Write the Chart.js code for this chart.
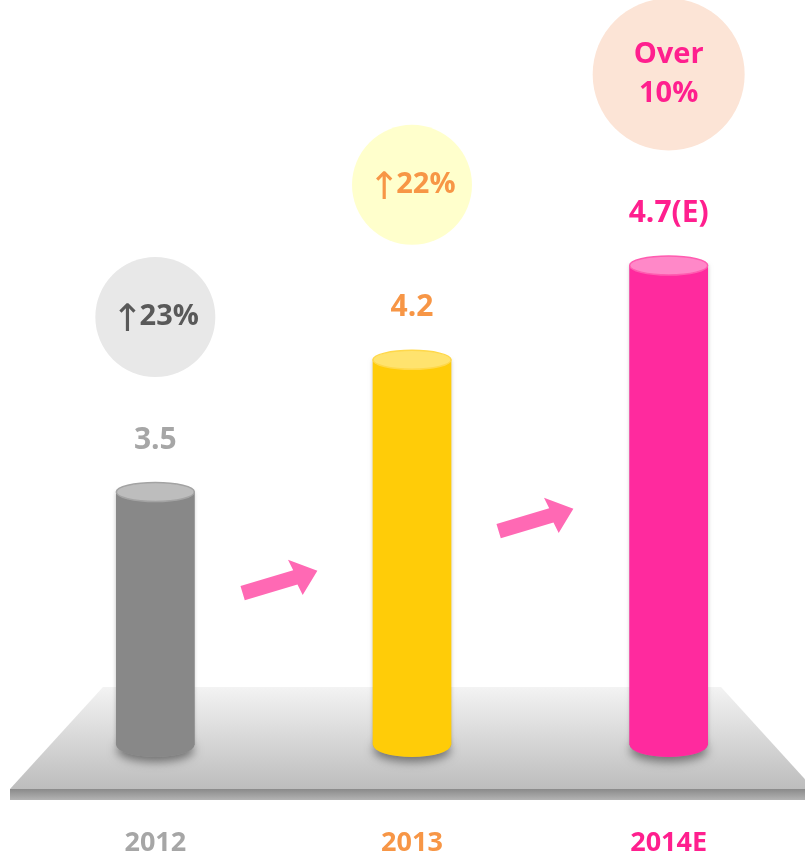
<!DOCTYPE html>
<html lang="en">
<head>
  <meta charset="UTF-8">
  <title>Growth</title>
  <style>
    body {
      margin: 0;
      padding: 0;
      background: #ffffff;
    }

    .chart-box {
      width: 805px;
      height: 855px;
      position: relative;
    }
  </style>
</head>
<body>
<div class="chart-box">
  <canvas id="growthChart"></canvas>
</div>

<script src="https://cdn.jsdelivr.net/npm/chart.js"></script>
<script>
  // data
  const years = ['2012', '2013', '2014E'];
  const values = [3.5, 4.2, 4.7];
  const valueLabels = ['3.5', '4.2', '4.7(E)'];
  const growthLabels = [['↑23%'], ['↑22%'], ['Over', '10%']];

  // styles
  const bodyColors = ['#888888', '#FFCC08', '#FF2A9E'];
  const topColors = ['#bdbdbd', '#FFE36E', '#FF88C8'];
  const topBorders = ['#a3a3a3', '#FFD84A', '#FF5CB0'];
  const textColors = ['#A6A6A6', '#F79646', '#FF1F8E'];
  const circleColors = ['#E8E8E8', '#FFFFCC', '#FCE4D6'];
  const circleTextColors = ['#595959', '#F79646', '#FF1F8E'];
  const circleRadius = [60, 60, 76];
  const FONT = "'Open Sans', sans-serif";

  function drawArrow(ctx, cx, cy, angle) {
    ctx.save();
    ctx.translate(cx, cy);
    ctx.rotate(angle);
    ctx.fillStyle = '#FF69B4';
    ctx.beginPath();
    ctx.moveTo(-39, -7.5);
    ctx.lineTo(16, -7.5);
    ctx.lineTo(14, -19);
    ctx.lineTo(39, 0);
    ctx.lineTo(18, 19);
    ctx.lineTo(16, 7.5);
    ctx.lineTo(-39, 7.5);
    ctx.closePath();
    ctx.fill();
    ctx.restore();
  }

  // "↑23%": arrow glyph from DejaVu, number from the main font
  function drawGrowthText(ctx, text, x, y) {
    const numFont = 'bold 29px ' + FONT;
    const arrowFont = '38px "DejaVu Sans"';
    if (text.charAt(0) !== '↑') {
      ctx.font = numFont;
      ctx.textAlign = 'center';
      ctx.fillText(text, x, y);
      return;
    }
    const rest = text.slice(1);
    ctx.font = arrowFont;
    const wa = ctx.measureText('↑').width;
    ctx.font = numFont;
    const wn = ctx.measureText(rest).width;
    const left = x - (wa + wn - 4) / 2;
    ctx.textAlign = 'left';
    ctx.font = arrowFont;
    ctx.fillText('↑', left, y + 4);
    ctx.font = numFont;
    ctx.fillText(rest, left + wa - 4, y);
    ctx.textAlign = 'center';
  }

  const cylinderPlugin = {
    id: 'cylinder',
    beforeDatasetsDraw(chart) {
      const ctx = chart.ctx;
      const base = chart.chartArea.bottom;
      const top = base - 58, bot = base + 44;
      ctx.save();
      // floor
      let g = ctx.createLinearGradient(0, top, 0, bot);
      g.addColorStop(0, '#f3f3f3');
      g.addColorStop(1, '#bdbdbd');
      ctx.fillStyle = g;
      ctx.beginPath();
      ctx.moveTo(103, top);
      ctx.lineTo(721, top);
      ctx.lineTo(814, bot);
      ctx.lineTo(10, bot);
      ctx.closePath();
      ctx.fill();
      g = ctx.createLinearGradient(0, bot, 0, bot + 11);
      g.addColorStop(0, '#8a8a8a');
      g.addColorStop(1, '#b3b3b3');
      ctx.fillStyle = g;
      ctx.fillRect(10, bot, 805, 11);
      // shadows under the cylinders and along their sides
      chart.getDatasetMeta(0).data.forEach(bar => {
        ctx.shadowColor = 'rgba(0,0,0,0.45)';
        ctx.shadowBlur = 10;
        ctx.shadowOffsetY = 5;
        ctx.fillStyle = '#999';
        ctx.beginPath();
        ctx.ellipse(bar.x, base, bar.width / 2, 12, 0, 0, Math.PI * 2);
        ctx.fill();
        ctx.shadowColor = 'rgba(0,0,0,0.25)';
        ctx.shadowBlur = 4;
        ctx.shadowOffsetY = 0;
        ctx.fillRect(bar.x - bar.width / 2, bar.y, bar.width, base - bar.y);
      });
      ctx.restore();
    },
    afterDatasetsDraw(chart) {
      const ctx = chart.ctx;
      const base = chart.chartArea.bottom;
      ctx.save();
      chart.getDatasetMeta(0).data.forEach((bar, i) => {
        const rx = bar.width / 2;
        // bottom cap
        ctx.fillStyle = bodyColors[i];
        ctx.beginPath();
        ctx.ellipse(bar.x, base, rx, 12, 0, 0, Math.PI);
        ctx.fill();
        // top cap
        ctx.fillStyle = topColors[i];
        ctx.strokeStyle = topBorders[i];
        ctx.lineWidth = 1.5;
        ctx.beginPath();
        ctx.ellipse(bar.x, bar.y, rx, 9.5, 0, 0, Math.PI * 2);
        ctx.fill();
        ctx.stroke();
        // value label
        ctx.textAlign = 'center';
        ctx.textBaseline = 'middle';
        ctx.fillStyle = textColors[i];
        ctx.font = 'bold 30px ' + FONT;
        ctx.fillText(valueLabels[i], bar.x, bar.y - 52);
        // growth circle
        const r = circleRadius[i];
        const cy = bar.y - 115 - r;
        ctx.fillStyle = circleColors[i];
        ctx.beginPath();
        ctx.arc(bar.x, cy, r, 0, Math.PI * 2);
        ctx.fill();
        ctx.fillStyle = circleTextColors[i];
        const lines = growthLabels[i];
        lines.forEach((t, k) => {
          drawGrowthText(ctx, t, bar.x, cy + (k - (lines.length - 1) / 2) * 39);
        });
      });
      ctx.restore();
      drawArrow(ctx, 280, 582, -0.29);
      drawArrow(ctx, 536, 520, -0.29);
    }
  };

  const ctx = document.getElementById('growthChart').getContext('2d');
  new Chart(ctx, {
    type: 'bar',
    data: {
      labels: years,
      datasets: [{
        data: values,
        backgroundColor: bodyColors,
        borderWidth: 0,
        barThickness: 78
      }]
    },
    options: {
      responsive: true,
      maintainAspectRatio: false,
      animation: false,
      layout: {
        padding: { top: 20, bottom: 0, left: 27, right: 8 }
      },
      plugins: {
        legend: { display: false },
        tooltip: { enabled: false }
      },
      scales: {
        x: {
          grid: { display: false, drawTicks: false },
          border: { display: false },
          afterFit(scale) {
            scale.height = 110;
          },
          ticks: {
            padding: 82,
            maxRotation: 0,
            color: textColors,
            font: { family: FONT, size: 27, weight: 'bold' }
          }
        },
        y: {
          display: false,
          min: 2.16,
          max: 6.0
        }
      }
    },
    plugins: [cylinderPlugin]
  });
</script>
</body>
</html>
